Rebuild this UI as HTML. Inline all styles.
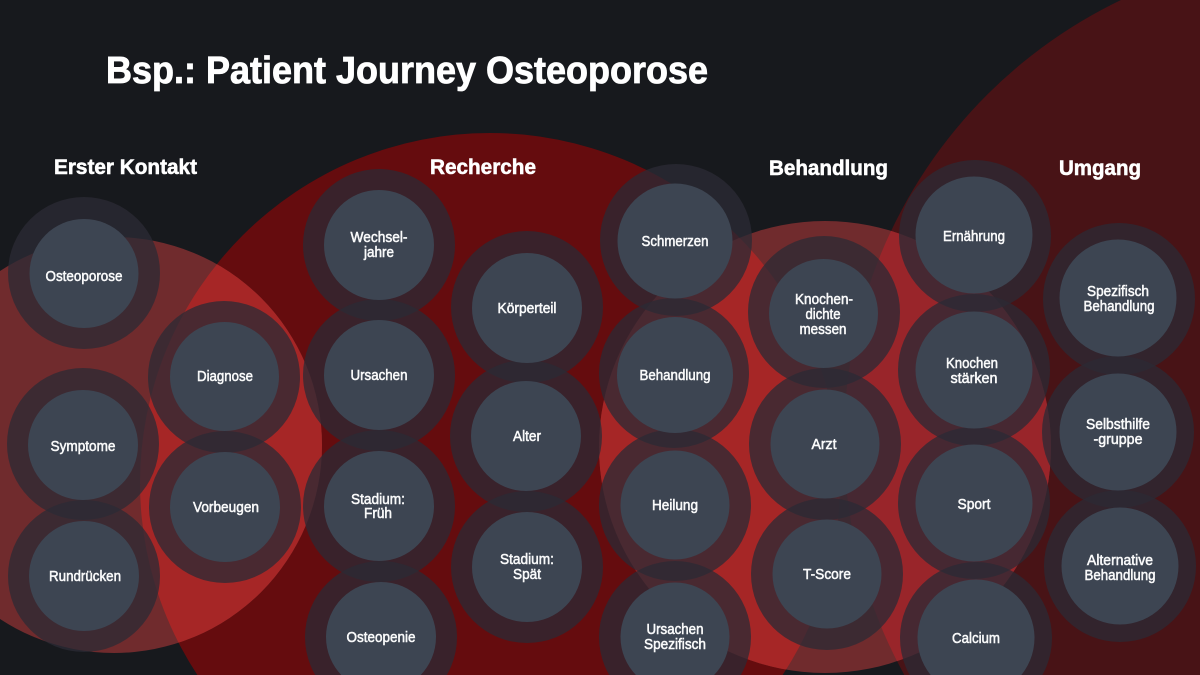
<!DOCTYPE html>
<html lang="de">
<head>
<meta charset="utf-8">
<title>Bsp.: Patient Journey Osteoporose</title>
<style>
html,body{margin:0;padding:0;background:#17191d;width:1200px;height:675px;overflow:hidden}
svg{display:block;overflow:hidden}
text{font-family:"Liberation Sans",sans-serif;fill:#fff}
.h{font-weight:700;font-size:21px;stroke:#fff;stroke-width:.55px}
.t{font-weight:700;font-size:38px;stroke:#fff;stroke-width:.8px}
.l{font-size:14.5px;text-anchor:middle;stroke:#fff;stroke-width:.5px;fill:#f6f7f8}
.r{fill:rgb(43,42,52);fill-opacity:.76}
.i{fill:#3d4552}
</style>
</head>
<body>
<svg xmlns="http://www.w3.org/2000/svg" width="1200" height="675" viewBox="0 0 1200 675">
<defs>
<clipPath id="c1"><circle cx="114" cy="445" r="208"/></clipPath>
<clipPath id="c3"><circle cx="825" cy="447" r="226"/></clipPath>
</defs>
<rect width="1200" height="675" fill="#17191d"/>
<circle cx="1332" cy="440" r="488" fill="#481316"/>
<circle cx="490" cy="483" r="350" fill="#650c0e"/>
<circle cx="114" cy="445" r="208" fill="#702b2d"/>
<circle cx="825" cy="447" r="226" fill="#702b2d"/>
<circle cx="490" cy="483" r="350" fill="#a62626" clip-path="url(#c1)"/>
<circle cx="490" cy="483" r="350" fill="#a62626" clip-path="url(#c3)"/>
<circle cx="1332" cy="440" r="488" fill="#99252a" clip-path="url(#c3)"/>

<g class="r">
<circle cx="84" cy="273" r="76"/><circle cx="224" cy="377" r="76"/><circle cx="83" cy="444" r="76"/><circle cx="225" cy="507" r="76"/><circle cx="84" cy="576" r="76"/>
<circle cx="379" cy="245" r="76"/><circle cx="379" cy="375" r="76"/><circle cx="379" cy="506" r="76"/><circle cx="381" cy="637" r="76"/>
<circle cx="527" cy="307" r="76"/><circle cx="526" cy="436" r="76"/><circle cx="527" cy="567" r="76"/>
<circle cx="676" cy="240" r="76"/><circle cx="674" cy="373" r="75"/><circle cx="675" cy="505" r="76"/><circle cx="675" cy="637" r="76"/>
<circle cx="824" cy="312" r="76"/><circle cx="825" cy="444" r="76"/><circle cx="827" cy="574" r="76"/>
<circle cx="975" cy="236" r="76"/><circle cx="974" cy="370" r="76"/><circle cx="974" cy="503" r="76"/><circle cx="976" cy="638" r="76"/>
<circle cx="1119" cy="299" r="76"/><circle cx="1118" cy="432" r="76"/><circle cx="1120" cy="566" r="76"/>
</g>
<g class="i">
<circle cx="84" cy="273.5" r="54.5"/><circle cx="224.5" cy="376.5" r="54.5"/><circle cx="83" cy="445" r="55"/><circle cx="225" cy="507" r="55"/><circle cx="84" cy="576" r="55"/>
<circle cx="379" cy="245" r="55"/><circle cx="379" cy="375" r="55"/><circle cx="379" cy="506" r="55"/><circle cx="381" cy="637" r="55"/>
<circle cx="527" cy="308" r="55"/><circle cx="526" cy="436" r="55"/><circle cx="527" cy="567" r="55"/>
<circle cx="675" cy="241" r="57.5"/><circle cx="675" cy="375" r="58"/><circle cx="675" cy="505" r="54.5"/><circle cx="675" cy="637" r="54.5"/>
<circle cx="823.5" cy="313.5" r="54.5"/><circle cx="825" cy="444" r="54.5"/><circle cx="827" cy="574" r="54.5"/>
<circle cx="974" cy="235" r="58.5"/><circle cx="974" cy="370" r="58.5"/><circle cx="974" cy="503" r="58.5"/><circle cx="976" cy="638" r="58.5"/>
<circle cx="1118" cy="298" r="58.5"/><circle cx="1118" cy="432" r="58.5"/><circle cx="1120" cy="566" r="58.5"/>
</g>

<text class="t" x="106" y="83" textLength="602" lengthAdjust="spacingAndGlyphs">Bsp.: Patient Journey Osteoporose</text>
<text class="h" x="54" y="174" textLength="143" lengthAdjust="spacingAndGlyphs">Erster Kontakt</text>
<text class="h" x="430" y="174" textLength="106" lengthAdjust="spacingAndGlyphs">Recherche</text>
<text class="h" x="769" y="175" textLength="119" lengthAdjust="spacingAndGlyphs">Behandlung</text>
<text class="h" x="1059" y="175" textLength="82" lengthAdjust="spacingAndGlyphs">Umgang</text>

<g>
<text class="l" x="84" y="281" textLength="77" lengthAdjust="spacingAndGlyphs">Osteoporose</text>
<text class="l" x="225" y="381" textLength="56" lengthAdjust="spacingAndGlyphs">Diagnose</text>
<text class="l" x="83" y="451" textLength="65" lengthAdjust="spacingAndGlyphs">Symptome</text>
<text class="l" x="226" y="512" textLength="66" lengthAdjust="spacingAndGlyphs">Vorbeugen</text>
<text class="l" x="85" y="581" textLength="72" lengthAdjust="spacingAndGlyphs">Rundrücken</text>
<text class="l" x="379" y="242" textLength="57" lengthAdjust="spacingAndGlyphs">Wechsel-</text>
<text class="l" x="379" y="257" textLength="30" lengthAdjust="spacingAndGlyphs">jahre</text>
<text class="l" x="379" y="380" textLength="57" lengthAdjust="spacingAndGlyphs">Ursachen</text>
<text class="l" x="378" y="504" textLength="54" lengthAdjust="spacingAndGlyphs">Stadium:</text>
<text class="l" x="378" y="518" textLength="28" lengthAdjust="spacingAndGlyphs">Früh</text>
<text class="l" x="381" y="642" textLength="69" lengthAdjust="spacingAndGlyphs">Osteopenie</text>
<text class="l" x="527" y="313" textLength="59" lengthAdjust="spacingAndGlyphs">Körperteil</text>
<text class="l" x="527" y="441" textLength="28" lengthAdjust="spacingAndGlyphs">Alter</text>
<text class="l" x="527" y="564" textLength="54" lengthAdjust="spacingAndGlyphs">Stadium:</text>
<text class="l" x="527" y="579" textLength="28" lengthAdjust="spacingAndGlyphs">Spät</text>
<text class="l" x="675" y="246" textLength="67" lengthAdjust="spacingAndGlyphs">Schmerzen</text>
<text class="l" x="675" y="380" textLength="71" lengthAdjust="spacingAndGlyphs">Behandlung</text>
<text class="l" x="675" y="510" textLength="46" lengthAdjust="spacingAndGlyphs">Heilung</text>
<text class="l" x="675" y="634" textLength="57" lengthAdjust="spacingAndGlyphs">Ursachen</text>
<text class="l" x="675" y="649" textLength="62" lengthAdjust="spacingAndGlyphs">Spezifisch</text>
<text class="l" x="824" y="304" textLength="58" lengthAdjust="spacingAndGlyphs">Knochen-</text>
<text class="l" x="823" y="319" textLength="35" lengthAdjust="spacingAndGlyphs">dichte</text>
<text class="l" x="823" y="334" textLength="47" lengthAdjust="spacingAndGlyphs">messen</text>
<text class="l" x="824" y="449" textLength="25" lengthAdjust="spacingAndGlyphs">Arzt</text>
<text class="l" x="827" y="579" textLength="48" lengthAdjust="spacingAndGlyphs">T-Score</text>
<text class="l" x="974" y="241" textLength="62" lengthAdjust="spacingAndGlyphs">Ernährung</text>
<text class="l" x="972" y="368" textLength="52" lengthAdjust="spacingAndGlyphs">Knochen</text>
<text class="l" x="974" y="383" textLength="47" lengthAdjust="spacingAndGlyphs">stärken</text>
<text class="l" x="974" y="509" textLength="33" lengthAdjust="spacingAndGlyphs">Sport</text>
<text class="l" x="976" y="643" textLength="48" lengthAdjust="spacingAndGlyphs">Calcium</text>
<text class="l" x="1118" y="296" textLength="62" lengthAdjust="spacingAndGlyphs">Spezifisch</text>
<text class="l" x="1119" y="311" textLength="71" lengthAdjust="spacingAndGlyphs">Behandlung</text>
<text class="l" x="1118" y="429" textLength="64" lengthAdjust="spacingAndGlyphs">Selbsthilfe</text>
<text class="l" x="1118" y="444" textLength="49" lengthAdjust="spacingAndGlyphs">-gruppe</text>
<text class="l" x="1120" y="565" textLength="66" lengthAdjust="spacingAndGlyphs">Alternative</text>
<text class="l" x="1120" y="580" textLength="71" lengthAdjust="spacingAndGlyphs">Behandlung</text>
</g>
</svg>
</body>
</html>
